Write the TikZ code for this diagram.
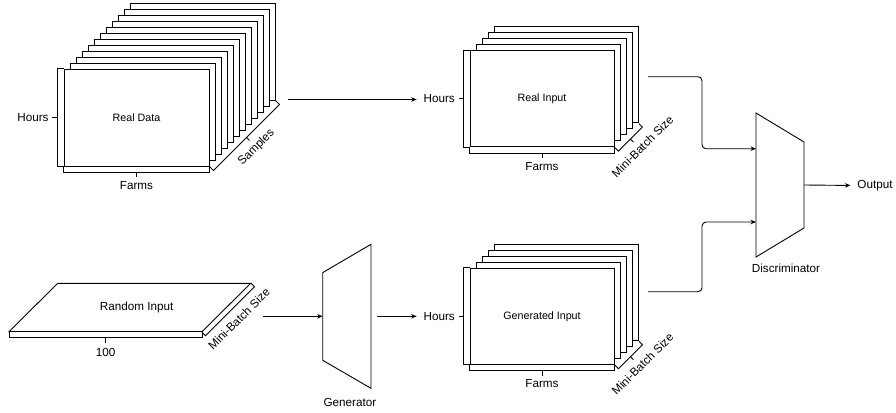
\documentclass[tikz,border=0pt]{standalone}
\usepackage{fontspec}
\setmainfont{Liberation Sans}
\usetikzlibrary{arrows.meta,calc}

\begin{document}
\begin{tikzpicture}[x=1pt,y=-1pt,line width=0.9pt,line join=miter,
  sheet/.style={draw,fill=white},
  front/.style={sheet,inner sep=0pt,font=\fontsize{10.7}{13}\selectfont},
  lbl/.style={inner sep=0pt,font=\fontsize{11.7}{14}\selectfont},
  box/.style={inner sep=0pt,outer sep=0pt},
  flow/.style={draw,-{Stealth[length=5.5pt,width=4.5pt]}},
  feed/.style={flow,shorten >=6.5pt},
  ]
\useasboundingbox (0,0) rectangle (896,412);

% ---------- Real Data: stack of 12 sheets ----------
\foreach \i in {11,...,1}
  \draw[sheet] ({64+6*\i},{69.3-6*\i}) rectangle ({209+6*\i},{166-6*\i});
\node[front,minimum width=145pt,minimum height=96.7pt] (realdata) at (136.5,117.65) {Real Data};
% Hours bracket
\draw (realdata.north west) -- ++(-6.5,0) |- (realdata.south west);
\draw ($(realdata.west)+(-6.5,0)$) -- ++(-5.5,0);
\node[lbl,anchor=east] (hoursRD) at ($(realdata.west)+(-14.5,0)$) {Hours};
% Farms bracket
\draw (realdata.south west) -- ++(0,5.7) -| (realdata.south east);
\draw ($(realdata.south)+(0,5.7)$) -- ++(0,4.8);
\node[lbl] (farmsRD) at ($(realdata.south)+(0,19)$) {Farms};
% Samples bracket
\draw ($(realdata.south east)+(0.5,0.5)$) -- ++(3.5,3.5) -- ++(66,-66) -- ++(-3.5,-3.5);
\draw ($(realdata.south east)+(37,-29)$) -- ++(3,3);
\node[lbl,rotate=45] (samples) at ($(realdata.south east)+(47,-19)$) {Samples};

% ---------- Real Input: stack of 5 sheets ----------
\foreach \i in {4,...,1}
  \draw[sheet] ({470+6*\i},{50.7-6*\i}) rectangle ({614+6*\i},{146.7-6*\i});
\node[front,minimum width=144pt,minimum height=96pt] (realin) at (542,98.7) {Real Input};
\draw (realin.north west) -- ++(-6,0) |- (realin.south west);
\draw ($(realin.west)+(-6,0)$) -- ++(-5,0);
\node[lbl,anchor=east] (hoursRI) at ($(realin.west)+(-14.3,0)$) {Hours};
\draw (realin.south west) -- ++(0,6) -| (realin.south east);
\draw ($(realin.south)+(0,6)$) -- ++(0,5);
\node[lbl] (farmsRI) at ($(realin.south)+(0,19)$) {Farms};
\draw ($(realin.south east)+(0.5,0.5)$) -- ++(3.5,3.5) -- ++(24,-24) -- ++(-3.5,-3.5);
\draw ($(realin.south east)+(16,-8)$) -- ++(3,3);
\node[lbl,rotate=45] (mbRI) at ($(realin.south east)+(28,-0.7)$) {Mini-Batch Size};

% ---------- Generated Input: stack of 5 sheets ----------
\foreach \i in {4,...,1}
  \draw[sheet] ({470+6*\i},{268.3-6*\i}) rectangle ({614+6*\i},{364.3-6*\i});
\node[front,minimum width=144pt,minimum height=96pt] (genin) at (542,316.3) {Generated Input};
\draw (genin.north west) -- ++(-6,0) |- (genin.south west);
\draw ($(genin.west)+(-6,0)$) -- ++(-5,0);
\node[lbl,anchor=east] (hoursGI) at ($(genin.west)+(-14.3,0)$) {Hours};
\draw (genin.south west) -- ++(0,6) -| (genin.south east);
\draw ($(genin.south)+(0,6)$) -- ++(0,5);
\node[lbl] (farmsGI) at ($(genin.south)+(0,19)$) {Farms};
\draw ($(genin.south east)+(0.5,0.5)$) -- ++(3.5,3.5) -- ++(24,-24) -- ++(-3.5,-3.5);
\draw ($(genin.south east)+(16,-8)$) -- ++(3,3);
\node[lbl,rotate=45] (mbGI) at ($(genin.south east)+(28,-0.7)$) {Mini-Batch Size};

% ---------- Random Input slab ----------
\draw[fill=white] (57.7,283.3) -- (250.7,283.3) -- (202,331.7) -- (9,331.7) -- cycle;
\draw[fill=white] (9,331.7) rectangle (202,337.3);
\draw (202,332.2) -- (205.5,335.7) -- (254.5,286.7) -- (251,283.3);
\draw (105.7,337.3) -- (105.7,342.5);
\node[front,draw=none,fill=none,font=\fontsize{11.7}{14}\selectfont] (randin) at (136.7,307.3) {Random Input};
\node[lbl] (hundred) at (105.7,352.7) {100};
\node[lbl,rotate=45] (mbRand) at (239,319) {Mini-Batch Size};
\coordinate (randOut) at (263,316.3);

% ---------- Generator ----------
\node[box,minimum width=48.3pt,minimum height=144pt] (gen) at (346.85,316.3) {};
\draw (gen.north east) -- (gen.south east) -- ($(gen.south west)+(0,-28)$)
      -- ($(gen.north west)+(0,28.3)$) -- cycle;
\node[lbl] (genlbl) at ($(gen.south)+(3,13.7)$) {Generator};

% ---------- Discriminator ----------
\node[box,minimum width=48pt,minimum height=144pt] (disc) at (780,185) {};
\draw (disc.north west) -- ($(disc.north east)+(0,29)$) -- ($(disc.south east)+(0,-29)$)
      -- (disc.south west) -- cycle;
\node[lbl] (disclbl) at (786,268) {Discriminator};
\node[lbl] (output) at (875,185.5) {Output};

% ---------- Connectors ----------
\coordinate (rdOut) at (288,99.5);
\coordinate (genOut) at ($(gen.east)+(6,0)$);
\coordinate (riOut) at (648,76.7);
\coordinate (giOut) at (648,291.7);

\draw[feed] (rdOut) -- (rdOut -| hoursRI.west);
\draw[flow] (randOut) -- (gen.west);
\draw[feed] (genOut) -- (hoursGI.west);
\draw[flow,rounded corners=4pt] (riOut) -- ++(54,0) |- ($(disc.west)+(0,-36.3)$);
\draw[flow,rounded corners=4pt] (giOut) -- ++(54,0) |- ($(disc.west)+(0,37)$);
\draw[feed] (disc.east) -- (output.west);
\end{tikzpicture}
\end{document}
